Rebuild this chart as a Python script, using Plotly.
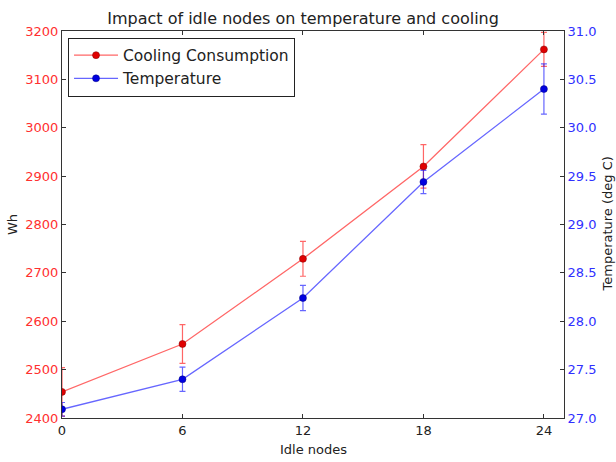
import plotly.graph_objects as go

idle_nodes = [0, 6, 12, 18, 24]
cooling_wh = [2454, 2553, 2729, 2920, 3162]
cooling_err = [50, 40, 36, 45, 35]
temperature = [27.09, 27.40, 28.24, 29.44, 30.40]
temperature_err = [0.07, 0.125, 0.13, 0.12, 0.26]

x_ticks = [0, 6, 12, 18, 24]
left_ticks = [2400, 2500, 2600, 2700, 2800, 2900, 3000, 3100, 3200]
right_ticks = [27.0, 27.5, 28.0, 28.5, 29.0, 29.5, 30.0, 30.5, 31.0]

FONT = "DejaVu Sans"
RED_LINE = "rgba(255,0,0,0.6)"
BLUE_LINE = "rgba(0,0,255,0.6)"

fig = go.Figure()
fig.add_trace(go.Scatter(
    x=idle_nodes, y=cooling_wh, name="Cooling Consumption",
    mode="lines+markers",
    line=dict(color=RED_LINE, width=1.3),
    marker=dict(color="#e00000", size=7, line=dict(color="#800000", width=0.5)),
    error_y=dict(type="data", array=cooling_err, color=RED_LINE, thickness=1.2, width=3),
    yaxis="y",
))
fig.add_trace(go.Scatter(
    x=idle_nodes, y=temperature, name="Temperature",
    mode="lines+markers",
    line=dict(color=BLUE_LINE, width=1.3),
    marker=dict(color="#0000e0", size=7, line=dict(color="#000080", width=0.5)),
    error_y=dict(type="data", array=temperature_err, color=BLUE_LINE, thickness=1.2, width=3),
    yaxis="y2",
))

fig.update_layout(
    width=616, height=462,
    margin=dict(l=62, r=52, t=31, b=44, autoexpand=False),
    paper_bgcolor="white", plot_bgcolor="white",
    font=dict(family=FONT, size=13, color="#222"),
    title=dict(text="Impact of idle nodes on temperature and cooling",
               x=0.492, xanchor="center", y=1 - 18 / 462, yanchor="middle",
               font=dict(size=16, color="#222")),
    xaxis=dict(range=[0, 25], tickvals=x_ticks, ticktext=[str(v) for v in x_ticks],
               ticks="inside", ticklen=4, tickcolor="#333", showline=True, linecolor="#333",
               linewidth=1, mirror="ticks", showgrid=False, zeroline=False,
               tickfont=dict(size=13, color="#222")),
    yaxis=dict(range=[2400, 3200], tickvals=left_ticks, ticktext=[str(v) for v in left_ticks],
               ticks="inside", ticklen=4, tickcolor="#333", showline=True, linecolor="#333",
               linewidth=1, showgrid=False, zeroline=False,
               tickfont=dict(size=13, color="#ff3030")),
    yaxis2=dict(range=[27, 31], tickvals=right_ticks, ticktext=[f"{v:.1f}" for v in right_ticks],
                overlaying="y", side="right",
                ticks="inside", ticklen=4, tickcolor="#333", showline=True, linecolor="#333",
                linewidth=1, showgrid=False, zeroline=False,
                tickfont=dict(size=13, color="#3030ff")),
    legend=dict(x=0.012, y=0.983, xanchor="left", yanchor="top",
                bgcolor="white", bordercolor="#222", borderwidth=1,
                itemwidth=44,
                font=dict(size=15.5, color="#222")),
    showlegend=True,
)

fig.add_annotation(text="Wh", xref="paper", yref="paper", x=-(62 - 12.5) / 502, y=0.5,
                   textangle=-90, showarrow=False, font=dict(size=13, color="#222"),
                   xanchor="center", yanchor="middle")
fig.add_annotation(text="Idle nodes", xref="paper", yref="paper", x=0.5, y=-(449 - 417.5) / 386,
                   showarrow=False, font=dict(size=13, color="#222"),
                   xanchor="center", yanchor="middle")
fig.add_annotation(text="Temperature (deg C)", xref="paper", yref="paper",
                   x=1 + (607 - 564) / 502, y=0.5, textangle=-90, showarrow=False,
                   font=dict(size=13, color="#222"), xanchor="center", yanchor="middle")

fig.write_html("out.html")
